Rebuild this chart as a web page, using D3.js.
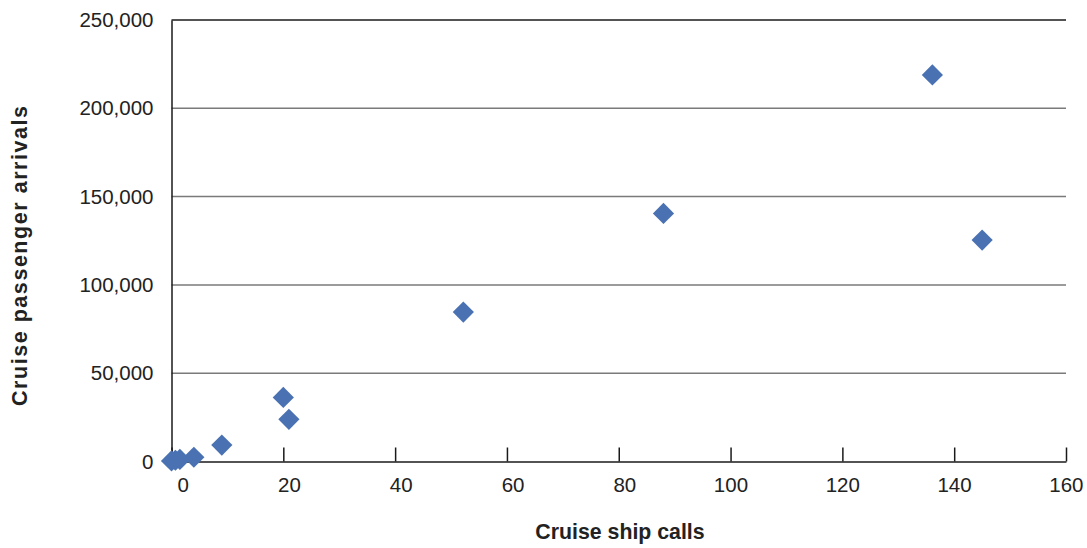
<!DOCTYPE html>
<html>
<head>
<meta charset="utf-8">
<script src="https://cdn.jsdelivr.net/npm/d3@7"></script>
<style>
  html, body { margin: 0; padding: 0; background: #fff; }
  svg { display: block; font-family: "Liberation Sans", Arial, Helvetica, sans-serif; }
</style>
</head>
<body>
<svg id="chart" width="1087" height="548"></svg>
<script>
// Data
const shipCalls = [0, 0.7, 1.5, 4.0, 9.0, 20.0, 21.0, 52.2, 88.0, 136.1, 145.0];
const passengerArrivals = [300, 700, 1200, 2400, 9300, 36300, 23900, 84600, 140500, 218900, 125400];
const xTicks = [0, 20, 40, 60, 80, 100, 120, 140, 160];
const yTicks = [0, 50000, 100000, 150000, 200000, 250000];
const xTitle = "Cruise ship calls";
const yTitle = "Cruise passenger arrivals";

(function () {
const svg = d3.select("#chart");
const pLeft = 171.5, pRight = 1066, pTop = 20, pBottom = 461.5;

const x = d3.scaleLinear().domain([0, 160]).range([pLeft, pRight]);
const y = d3.scaleLinear().domain([0, 250000]).range([pBottom, pTop]);

// Gridlines
svg.append("g").selectAll("line")
  .data(yTicks.filter(d => d > 0))
  .join("line")
  .attr("x1", pLeft).attr("x2", pRight)
  .attr("y1", d => y(d)).attr("y2", d => y(d))
  .attr("stroke", d => d === 250000 ? "#1a1a1a" : "#7a7a7a")
  .attr("stroke-width", 1.5);

// Y axis (line only, no ticks)
const yAxis = d3.axisLeft(y).tickValues(yTicks).tickSize(0).tickPadding(18).tickFormat(d3.format(","));
const gy = svg.append("g").attr("transform", `translate(${pLeft},0)`).call(yAxis);
gy.select(".domain").attr("stroke", "#1a1a1a").attr("stroke-width", 1.5);
gy.selectAll("text").attr("font-size", 20.5).attr("fill", "#222").attr("font-family", "Liberation Sans, Arial, sans-serif");

// X axis with inward ticks
const xAxis = d3.axisBottom(x).tickValues(xTicks).tickSize(-14).tickSizeOuter(0).tickPadding(0).tickFormat(d3.format("d"));
const gx = svg.append("g").attr("transform", `translate(0,${pBottom})`).call(xAxis);
gx.select(".domain").attr("stroke", "#1a1a1a").attr("stroke-width", 1.5);
gx.selectAll(".tick line").attr("stroke", "#1a1a1a").attr("stroke-width", 1.5);
gx.selectAll(".tick text")
  .attr("font-size", 20.5).attr("fill", "#222")
  .attr("font-family", "Liberation Sans, Arial, sans-serif")
  .attr("text-anchor", "end")
  .attr("x", 17).attr("y", 30.5).attr("dy", 0);

// Points (diamonds)
const diamond = d3.symbol().type(d3.symbolSquare).size(225);
svg.append("g").selectAll("path")
  .data(shipCalls.map((v, i) => [v, passengerArrivals[i]]))
  .join("path")
  .attr("d", diamond)
  .attr("transform", d => `translate(${x(d[0])},${y(d[1])}) rotate(45)`)
  .attr("fill", "#4a72b3");

// Axis titles
svg.append("text")
  .attr("x", 620).attr("y", 539)
  .attr("text-anchor", "middle")
  .attr("font-size", 21.3).attr("font-weight", "bold").attr("fill", "#222")
  .text(xTitle);

svg.append("text")
  .attr("transform", "translate(27,256) rotate(-90)")
  .attr("text-anchor", "middle")
  .attr("font-size", 21.5).attr("font-weight", "bold").attr("fill", "#222")
  .attr("textLength", 300).attr("lengthAdjust", "spacing")
  .text(yTitle);
})();
</script>
</body>
</html>
